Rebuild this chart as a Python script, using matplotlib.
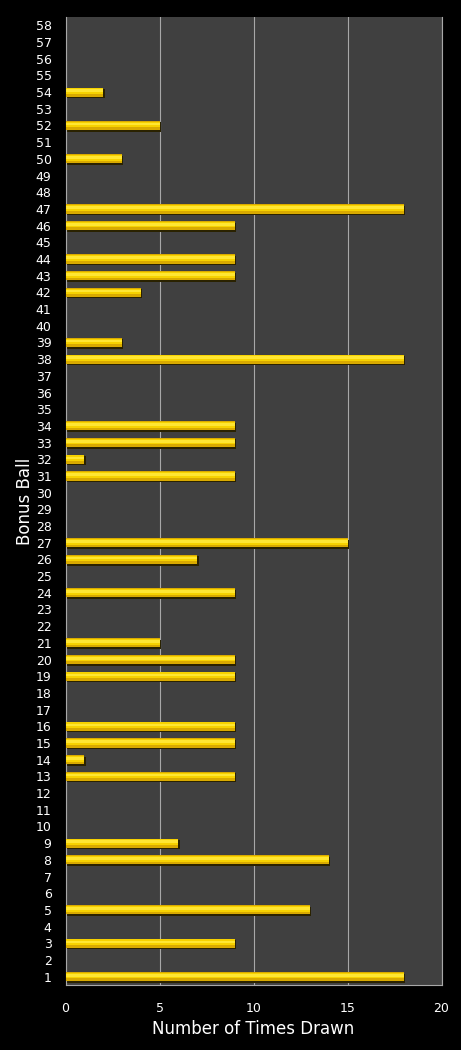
import matplotlib
matplotlib.use("Agg")
import matplotlib.pyplot as plt
import matplotlib.transforms as mtransforms

balls = list(range(1, 59))
drawn = {
    1: 18, 3: 9, 5: 13, 8: 14, 9: 6, 13: 9, 14: 1, 15: 9, 16: 9,
    19: 9, 20: 9, 21: 5, 24: 9, 26: 7, 27: 15, 31: 9, 32: 1, 33: 9,
    34: 9, 38: 18, 39: 3, 42: 4, 43: 9, 44: 9, 46: 9, 47: 18, 50: 3,
    52: 5, 54: 2,
}
counts = [drawn.get(b, 0) for b in balls]
x_ticks = [0, 5, 10, 15, 20]

# only draw balls that came up at least once
bar_y = [b for b, c in zip(balls, counts) if c > 0]
bar_w = [c for c in counts if c > 0]

fig = plt.figure(figsize=(4.61, 10.5), dpi=100, facecolor="black")
ax = fig.add_axes([65.5 / 461, 65 / 1050, 376 / 461, 968 / 1050])
ax.set_facecolor("#404040")

# bars: dark shadow, gold body, lighter highlight band
shadow = ax.transData + mtransforms.ScaledTranslation(1.5 / 100, -1.5 / 100, fig.dpi_scale_trans)
ax.barh(bar_y, bar_w, height=0.55, color="#2a2200", linewidth=0, transform=shadow, zorder=2)
ax.barh(bar_y, bar_w, height=0.55, color="#d9aa00", linewidth=0, zorder=3)
ax.barh([b + 0.06 for b in bar_y], bar_w, height=0.34, color="#f7d200", linewidth=0, zorder=4)
ax.barh([b + 0.08 for b in bar_y], bar_w, height=0.16, color="#ffe633", linewidth=0, zorder=5)

ax.set_xlim(0, 20)
ax.set_ylim(0.5, 58.5)
ax.set_xticks(x_ticks)
ax.set_yticks(balls)
ax.set_yticklabels([str(b) for b in balls])
ax.grid(True, axis="x", color="#a8a8a8", linewidth=0.8, zorder=1)
ax.set_axisbelow(True)
ax.tick_params(axis="both", colors="white", labelsize=9, length=0)
ax.tick_params(axis="y", pad=10)
ax.tick_params(axis="x", pad=12)
for side in ["left", "bottom", "right", "top"]:
    ax.spines[side].set_color("#a8a8a8")
    ax.spines[side].set_linewidth(0.8)
ax.spines["top"].set_visible(False)

ax.set_xlabel("Number of Times Drawn", color="white", fontsize=12, labelpad=4)
ax.set_ylabel("Bonus Ball", color="white", fontsize=12, labelpad=1)

fig.savefig("out.png", dpi=100, facecolor="black")
